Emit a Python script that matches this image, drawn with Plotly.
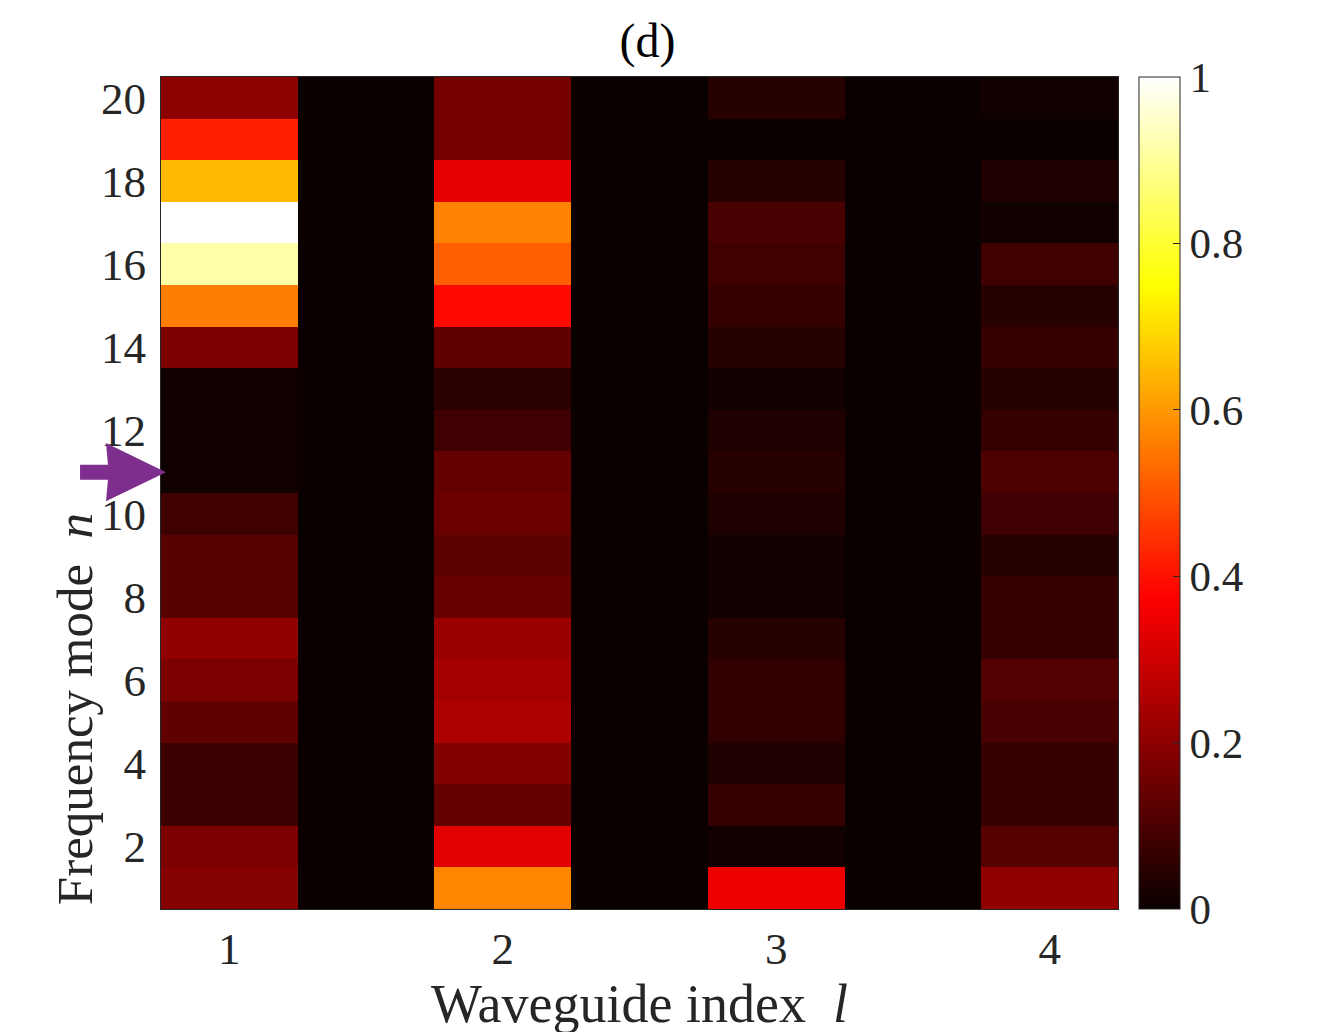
import plotly.graph_objects as go

# waveguide positions (with empty gaps between the guides) and frequency modes
waveguide_x = [1, 1.5, 2, 2.5, 3, 3.5, 4]
modes = list(range(1, 21))

# normalised intensity per mode n = 1..20
guide_1 = [0.188, 0.176, 0.076, 0.076, 0.132, 0.176, 0.206, 0.118, 0.118, 0.081,
           0.01, 0.01, 0.01, 0.176, 0.559, 0.917, 1.0, 0.647, 0.419, 0.199]
guide_2 = [0.574, 0.33, 0.14, 0.184, 0.25, 0.235, 0.22, 0.144, 0.125, 0.147,
           0.14, 0.08, 0.05, 0.132, 0.39, 0.515, 0.566, 0.338, 0.162, 0.162]
guide_3 = [0.346, 0.01, 0.066, 0.03, 0.059, 0.059, 0.044, 0.01, 0.01, 0.03,
           0.044, 0.03, 0.01, 0.044, 0.066, 0.081, 0.096, 0.044, 0.0, 0.044]
guide_4 = [0.206, 0.118, 0.066, 0.066, 0.096, 0.11, 0.066, 0.066, 0.044, 0.08,
           0.103, 0.066, 0.044, 0.066, 0.044, 0.081, 0.01, 0.03, 0.0, 0.01]
gap = [0.0] * 20

x_ticks = [1, 2, 3, 4]
y_ticks = [2, 4, 6, 8, 10, 12, 14, 16, 18, 20]
cbar_ticks = [0, 0.2, 0.4, 0.6, 0.8, 1]
ARROW_N = 11  # mode marked by the purple arrow

columns = [guide_1, gap, guide_2, gap, guide_3, gap, guide_4]
z = [[col[i] for col in columns] for i in range(len(modes))]

# matlab "hot"
hot = [[0.0, "rgb(10,0,0)"], [0.375, "rgb(255,0,0)"],
       [0.75, "rgb(255,255,0)"], [1.0, "rgb(255,255,255)"]]

FONT = "Liberation Serif, Times New Roman, serif"
TXT = "#262626"

fig = go.Figure(go.Heatmap(
    x=waveguide_x, y=modes, z=z,
    colorscale=hot, zmin=0, zmax=1,
    colorbar=dict(
        x=1.022, xanchor="left", xpad=0,
        y=0, yanchor="bottom", len=1, lenmode="fraction", ypad=0,
        thickness=41, outlinecolor=TXT, outlinewidth=1,
        tickvals=cbar_ticks, ticktext=["0", "0.2", "0.4", "0.6", "0.8", "1"],
        ticks="inside", ticklen=7, tickcolor=TXT,
        tickfont=dict(family=FONT, size=43, color=TXT),
    ),
))

# purple arrow pointing at the marked mode
ax0, ax1, ax2, tip = -0.0846, -0.0554, -0.0575, 0.0052
arrow = (f"M {ax0},{ARROW_N + 0.18} L {ax1},{ARROW_N + 0.18} L {ax2},{ARROW_N + 0.70} "
         f"L {tip},{ARROW_N} L {ax2},{ARROW_N - 0.70} L {ax1},{ARROW_N - 0.18} "
         f"L {ax0},{ARROW_N - 0.18} Z")
fig.add_shape(type="path", path=arrow, xref="paper", yref="y",
              fillcolor="#7E2F8E", line=dict(width=0), layer="above")

fig.add_annotation(text="Frequency mode&nbsp;&nbsp;<i>n</i>", textangle=-90,
                   xref="paper", yref="paper", x=-0.09, y=0.24,
                   xanchor="center", yanchor="middle",
                   showarrow=False, font=dict(family=FONT, size=51, color=TXT))

fig.update_xaxes(range=[0.75, 4.25], tickvals=x_ticks, ticks="",
                 showline=True, mirror=True, linecolor=TXT, linewidth=1,
                 tickfont=dict(family=FONT, size=45, color=TXT),
                 title=dict(text="Waveguide index&nbsp;&nbsp;<i>l</i>",
                            font=dict(family=FONT, size=54, color=TXT), standoff=0))
fig.update_yaxes(range=[0.5, 20.5], tickvals=y_ticks, ticks="",
                 showline=True, mirror=True, linecolor=TXT, linewidth=1,
                 ticklabelstandoff=5,
                 tickfont=dict(family=FONT, size=45, color=TXT))

# page body adds an 8px offset, margins compensate for it
fig.update_layout(
    width=1336, height=1032,
    title=dict(text="(d)", x=0.4787, xanchor="center", y=0.969, yanchor="middle",
               font=dict(family=FONT, size=48, color="#000000")),
    margin=dict(l=153, r=226, t=69, b=131),
    paper_bgcolor="white", plot_bgcolor="white",
)

fig.write_html("out.html")
